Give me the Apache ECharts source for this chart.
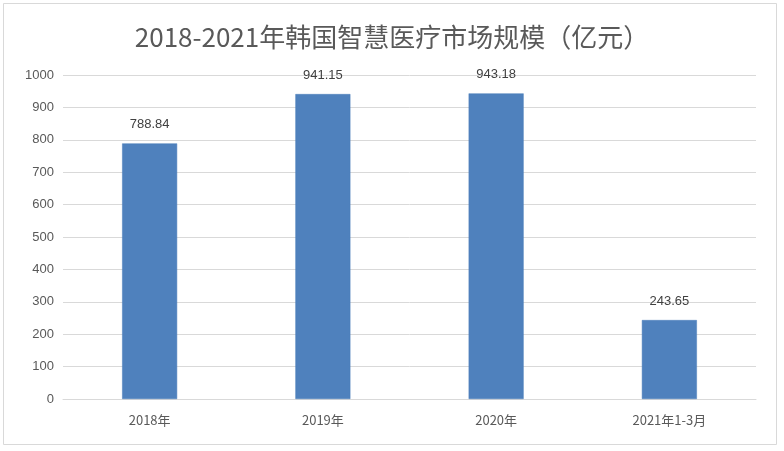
<!DOCTYPE html>
<html><head><meta charset="utf-8">
<script src="https://cdn.jsdelivr.net/npm/echarts@6/dist/echarts.min.js"></script>
<style>html,body{margin:0;padding:0;background:#fff}#c{width:784px;height:451px}</style>
</head><body><div id="c"></div>
<script>
const categories = ['2018年', '2019年', '2020年', '2021年1-3月'];
const values = [788.84, 941.15, 943.18, 243.65];
const titleText = '2018-2021年韩国智慧医疗市场规模（亿元）';
const chart = echarts.init(document.getElementById('c'));
chart.setOption({
  backgroundColor: '#fff',
  graphic: [{type:'rect', shape:{x:3.5,y:3.5,width:773,height:441}, style:{fill:'none', stroke:'#d9d9d9', lineWidth:1}, silent:true}],
  title: {text: titleText, left: 'center', top: 19, textStyle:{fontFamily:'"Noto Sans CJK SC", sans-serif', fontSize:26, fontWeight:'normal', color:'#595959'}},
  grid: {left: 63, right: 28, top: 75, bottom: 52},
  xAxis: {type:'category', data: categories,
    axisLine:{lineStyle:{color:'#d9d9d9'}}, axisTick:{show:false},
    axisLabel:{color:'#595959', fontSize:13, margin:15, fontFamily:'"Noto Sans CJK SC", sans-serif'}},
  yAxis: {type:'value', min:0, max:1000, interval:100,
    axisLine:{show:false}, axisTick:{show:false},
    splitLine:{lineStyle:{color:'#d9d9d9'}},
    axisLabel:{color:'#595959', fontSize:13, margin:9, formatter: v => String(v), fontFamily:'"Liberation Sans", sans-serif'}},
  series: [{type:'bar', data: values, barWidth: 55,
    itemStyle:{color:'#4F81BD', borderColor:'#4A7EBB', borderWidth:0.5},
    label:{show:true, position:'top', distance:12, color:'#404040', fontSize:13, fontFamily:'"Liberation Sans", sans-serif'}}]
});
</script></body></html>
